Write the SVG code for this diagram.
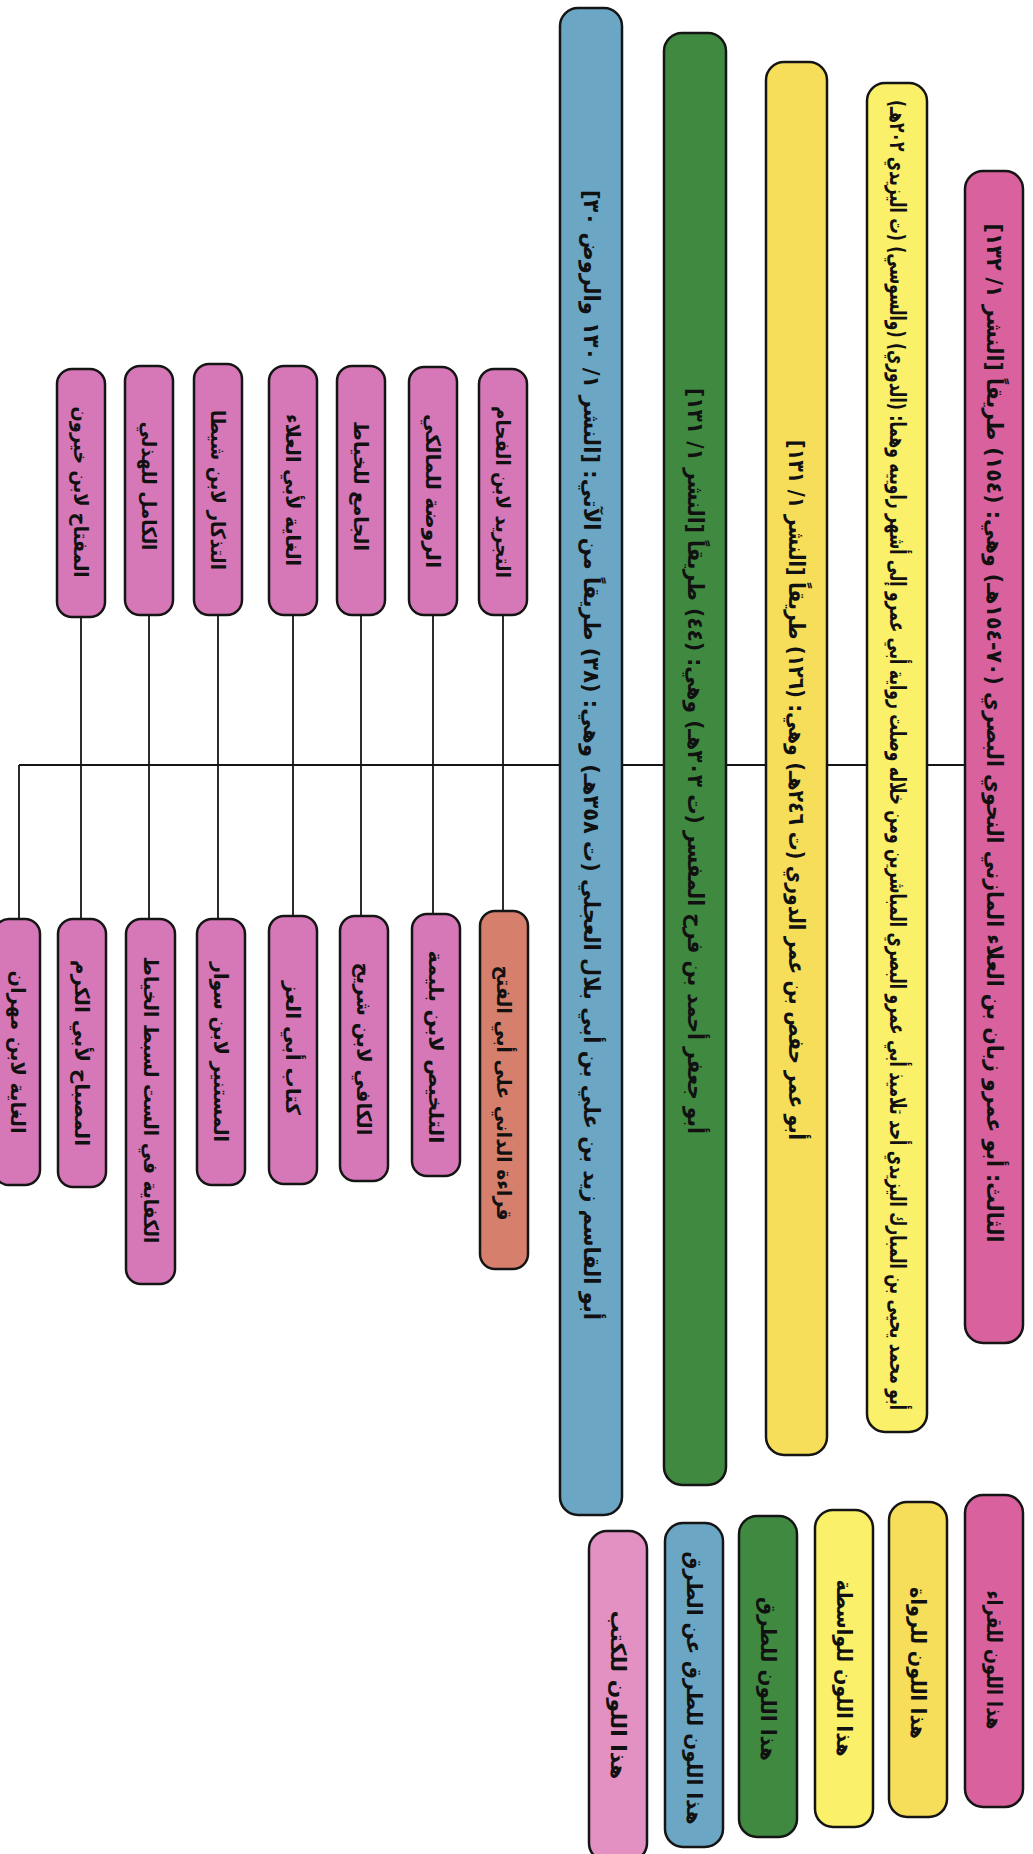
<svg xmlns="http://www.w3.org/2000/svg" width="1033" height="1854" viewBox="0 0 1033 1854">
<defs>
<style>
.box{stroke:#151515;stroke-width:2.5}
.reader{fill:#d9619d}
.waseta{fill:#faf06a}
.rawi{fill:#f6de5a}
.tariq{fill:#3f8a40}
.tariq2{fill:#6ba7c4}
.book{fill:#d678b8}
.book2{fill:#d57f6c}
.booklg{fill:#e391c2}
.t{font-family:"DejaVu Sans","Noto Sans",sans-serif;font-weight:bold;fill:#111;text-anchor:middle;dominant-baseline:central}
.tb{font-size:22px}
.tk{font-size:20px}
.tl{font-size:21px}
.ln{stroke:#151515;stroke-width:1.8;fill:none}
</style>
</defs>
<rect width="1033" height="1854" fill="#ffffff"/>
<g id="connectors">
<line class="ln" x1="19" y1="765" x2="966" y2="765"/>
<line class="ln" x1="503" y1="615" x2="503" y2="912"/>
<line class="ln" x1="433" y1="615" x2="433" y2="915"/>
<line class="ln" x1="361" y1="615" x2="361" y2="917"/>
<line class="ln" x1="293" y1="615" x2="293" y2="917"/>
<line class="ln" x1="218" y1="615" x2="218" y2="919"/>
<line class="ln" x1="149" y1="615" x2="149" y2="919"/>
<line class="ln" x1="81" y1="615" x2="81" y2="919"/>
<line class="ln" x1="19" y1="765" x2="19" y2="919"/>
</g>
<g id="blue-tariq">
<rect class="box tariq2" x="560" y="8" width="62" height="1507" rx="18"/>
<text class="t tb" transform="translate(591,755) rotate(90)" textLength="1130" lengthAdjust="spacingAndGlyphs">أبو القاسم زيد بن علي بن أبي بلال العجلي (ت ٣٥٨هـ) وهي: (٣٨) طريقاً من الآتي: [النشر ١/ ١٣٠ والروض ٣٠]</text>
</g>
<g id="green-tariq">
<rect class="box tariq" x="664" y="33" width="62" height="1452" rx="18"/>
<text class="t tb" transform="translate(695,761) rotate(90)" textLength="746" lengthAdjust="spacingAndGlyphs">أبو جعفر أحمد بن فرح المفسر (ت ٣٠٣هـ) وهي: (٤٤) طريقاً [النشر ١/ ١٣١]</text>
</g>
<g id="rawi-hafs">
<rect class="box rawi" x="766" y="62" width="61" height="1393" rx="18"/>
<text class="t tb" transform="translate(796.5,790) rotate(90)" textLength="700" lengthAdjust="spacingAndGlyphs">أبو عمر حفص بن عمر الدوري (ت ٢٤٦هـ) وهي: (١٢٦) طريقاً [النشر ١/ ١٣١]</text>
</g>
<g id="waseta-yazidi">
<rect class="box waseta" x="867" y="83" width="60" height="1349" rx="18"/>
<text class="t tb" transform="translate(897,755) rotate(90)" textLength="1310" lengthAdjust="spacingAndGlyphs">أبو محمد يحيى بن المبارك اليزيدي أحد تلاميذ أبي عمرو البصري المباشرين ومن خلاله وصلت رواية أبي عمرو إلى أشهر راوييه وهما: (الدوري) (والسوسي) (ت اليزيدي ٢٠٢هـ)</text>
</g>
<g id="reader-abu-amr">
<rect class="box reader" x="965" y="171" width="58" height="1172" rx="18"/>
<text class="t tb" transform="translate(994,733) rotate(90)" textLength="1019" lengthAdjust="spacingAndGlyphs">الثالث: أبو عمرو زبان بن العلاء المازني النحوي البصري (٧٠-١٥٤هـ) وهي: (١٥٤) طريقاً [النشر ١/ ١٣٢]</text>
</g>
<g id="book-tajrid">
<rect class="box book" x="479" y="369" width="48" height="246" rx="15"/>
<text class="t tk" transform="translate(503,492) rotate(90)" textLength="172" lengthAdjust="spacingAndGlyphs">التجريد لابن الفحام</text>
</g>
<g id="book-rawda">
<rect class="box book" x="409" y="367" width="48" height="248" rx="15"/>
<text class="t tk" transform="translate(433,491) rotate(90)" textLength="154" lengthAdjust="spacingAndGlyphs">الروضة للمالكي</text>
</g>
<g id="book-jami">
<rect class="box book" x="337" y="366" width="48" height="249" rx="15"/>
<text class="t tk" transform="translate(361,486) rotate(90)" textLength="130" lengthAdjust="spacingAndGlyphs">الجامع للخياط</text>
</g>
<g id="book-ghaya-alaa">
<rect class="box book" x="269" y="366" width="48" height="249" rx="15"/>
<text class="t tk" transform="translate(293,490) rotate(90)" textLength="152" lengthAdjust="spacingAndGlyphs">الغاية لأبي العلاء</text>
</g>
<g id="book-tadhkar">
<rect class="box book" x="194" y="364" width="48" height="251" rx="15"/>
<text class="t tk" transform="translate(218,490) rotate(90)" textLength="160" lengthAdjust="spacingAndGlyphs">التذكار لابن شيطا</text>
</g>
<g id="book-kamil">
<rect class="box book" x="125" y="366" width="48" height="249" rx="15"/>
<text class="t tk" transform="translate(149,486) rotate(90)" textLength="129" lengthAdjust="spacingAndGlyphs">الكامل للهذلي</text>
</g>
<g id="book-miftah">
<rect class="box book" x="57" y="369" width="48" height="248" rx="15"/>
<text class="t tk" transform="translate(81,492) rotate(90)" textLength="171" lengthAdjust="spacingAndGlyphs">المفتاح لابن خيرون</text>
</g>
<g id="book-dani">
<rect class="box book2" x="480" y="911" width="48" height="358" rx="15"/>
<text class="t tk" transform="translate(504,1093) rotate(90)" textLength="255" lengthAdjust="spacingAndGlyphs">قراءة الداني على أبي الفتح</text>
</g>
<g id="book-talkhis">
<rect class="box book" x="412" y="914" width="48" height="262" rx="15"/>
<text class="t tk" transform="translate(436,1047) rotate(90)" textLength="193" lengthAdjust="spacingAndGlyphs">التلخيص لابن بليمة</text>
</g>
<g id="book-kafi">
<rect class="box book" x="340" y="916" width="48" height="265" rx="15"/>
<text class="t tk" transform="translate(364,1049) rotate(90)" textLength="173" lengthAdjust="spacingAndGlyphs">الكافي لابن شريح</text>
</g>
<g id="book-abi-izz">
<rect class="box book" x="269" y="916" width="48" height="268" rx="15"/>
<text class="t tk" transform="translate(293,1048) rotate(90)" textLength="134" lengthAdjust="spacingAndGlyphs">كتاب أبي العز</text>
</g>
<g id="book-mustanir">
<rect class="box book" x="197" y="919" width="48" height="266" rx="15"/>
<text class="t tk" transform="translate(221,1052) rotate(90)" textLength="180" lengthAdjust="spacingAndGlyphs">المستنير لابن سوار</text>
</g>
<g id="book-kifaya">
<rect class="box book" x="126" y="919" width="49" height="365" rx="15"/>
<text class="t tk" transform="translate(150.5,1100) rotate(90)" textLength="287" lengthAdjust="spacingAndGlyphs">الكفاية في الست لسبط الخياط</text>
</g>
<g id="book-misbah">
<rect class="box book" x="58" y="919" width="48" height="268" rx="15"/>
<text class="t tk" transform="translate(82,1053) rotate(90)" textLength="186" lengthAdjust="spacingAndGlyphs">المصباح لأبي الكرم</text>
</g>
<g id="book-ghaya-mihran">
<rect class="box book" x="-6" y="919" width="46" height="266" rx="15"/>
<text class="t tk" transform="translate(18,1052) rotate(90)" textLength="163" lengthAdjust="spacingAndGlyphs">الغاية لابن مهران</text>
</g>
<g id="legend-qurra">
<rect class="box reader" x="965" y="1495" width="58" height="312" rx="18"/>
<text class="t tl" transform="translate(994,1660) rotate(90)" textLength="139" lengthAdjust="spacingAndGlyphs">هذا اللون للقراء</text>
</g>
<g id="legend-ruwat">
<rect class="box rawi" x="889" y="1502" width="58" height="315" rx="18"/>
<text class="t tl" transform="translate(918,1663) rotate(90)" textLength="152" lengthAdjust="spacingAndGlyphs">هذا اللون للرواة</text>
</g>
<g id="legend-waseta">
<rect class="box waseta" x="815" y="1510" width="58" height="317" rx="18"/>
<text class="t tl" transform="translate(844,1668) rotate(90)" textLength="177" lengthAdjust="spacingAndGlyphs">هذا اللون للواسطة</text>
</g>
<g id="legend-turuq">
<rect class="box tariq" x="739" y="1516" width="58" height="321" rx="18"/>
<text class="t tl" transform="translate(768,1679) rotate(90)" textLength="164" lengthAdjust="spacingAndGlyphs">هذا اللون للطرق</text>
</g>
<g id="legend-turuq2">
<rect class="box tariq2" x="665" y="1523" width="58" height="324" rx="18"/>
<text class="t tl" transform="translate(694,1688) rotate(90)" textLength="273" lengthAdjust="spacingAndGlyphs">هذا اللون للطرق عن الطرق</text>
</g>
<g id="legend-kutub">
<rect class="box booklg" x="589" y="1531" width="58" height="330" rx="18"/>
<text class="t tl" transform="translate(618,1695) rotate(90)" textLength="169" lengthAdjust="spacingAndGlyphs">هذا اللون للكتب</text>
</g>
</svg>
